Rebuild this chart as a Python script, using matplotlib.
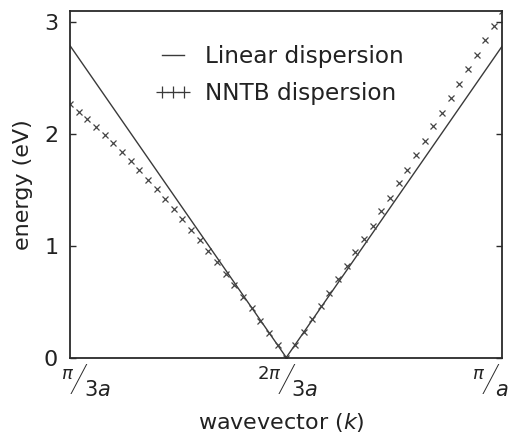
import matplotlib
matplotlib.use("Agg")
import matplotlib.pyplot as plt
from matplotlib.lines import Line2D
import matplotlib.transforms as mtransforms

plt.rcParams['font.family'] = ['DejaVu Sans']
plt.rcParams['mathtext.fontset'] = 'dejavusans'

# wavevector in units of pi/a
k_nntb = [0.3333, 0.3467, 0.3600, 0.3733, 0.3867, 0.4000, 0.4133, 0.4267, 0.4400,
          0.4533, 0.4667, 0.4800, 0.4933, 0.5067, 0.5200, 0.5333, 0.5467, 0.5600,
          0.5733, 0.5867, 0.6000, 0.6133, 0.6267, 0.6400, 0.6533, 0.6667, 0.6800,
          0.6933, 0.7067, 0.7200, 0.7333, 0.7467, 0.7600, 0.7733, 0.7867, 0.8000,
          0.8133, 0.8267, 0.8400, 0.8533, 0.8667, 0.8800, 0.8933, 0.9067, 0.9200,
          0.9333, 0.9467, 0.9600, 0.9733, 0.9867, 1.0000]
e_nntb = [2.27, 2.20, 2.13, 2.06, 1.99, 1.92, 1.84, 1.76, 1.68, 1.59, 1.51, 1.42,
          1.33, 1.24, 1.14, 1.05, 0.95, 0.85, 0.75, 0.65, 0.54, 0.44, 0.33, 0.22,
          0.11, 0.00, 0.11, 0.23, 0.34, 0.46, 0.58, 0.70, 0.82, 0.94, 1.06, 1.18,
          1.31, 1.43, 1.56, 1.68, 1.81, 1.94, 2.07, 2.19, 2.32, 2.45, 2.58, 2.71,
          2.84, 2.97, 3.10]

k_linear = [1/3, 2/3, 1.0]
e_linear = [2.79, 0.0, 2.79]

xtick_pos = [1/3, 2/3, 1.0]
xtick_num = [r'$\pi$', r'$2\pi$', r'$\pi$']
xtick_den = [r'$3a$', r'$3a$', r'$a$']
ytick_pos = [0, 1, 2, 3]
ytick_lab = ['0', '1', '2', '3']

label_names = ['Linear dispersion', 'NNTB dispersion']

dark = '#2a2a2a'
fig = plt.figure(figsize=(5.09, 4.34), dpi=100)
ax = fig.add_axes([70/509, 1-357.5/434, 432.5/509, 346.5/434])

ax.plot(k_linear, e_linear, '-', color='#3a3a3a', lw=1.0)
ax.plot(k_nntb, e_nntb, linestyle='none', marker='x', ms=5, mew=0.9, color='#444444')

ax.set_xlim(1/3, 1.0)
ax.set_ylim(0, 3.1)

for s in ax.spines.values():
    s.set_linewidth(1.3)
    s.set_color(dark)

ax.set_yticks(ytick_pos)
ax.set_yticklabels(ytick_lab)
ax.tick_params(axis='y', direction='in', length=4.5, width=1.0, color=dark,
               labelsize=16, pad=8.5, right=True, labelcolor='#222222')
ax.set_xticks(xtick_pos)
ax.set_xticklabels([])
ax.tick_params(axis='x', length=0)

# fraction-style tick labels
trans = ax.get_xaxis_transform()
slash_dx = [9, 0, -12]
for x, num, den, sdx in zip(xtick_pos, xtick_num, xtick_den, slash_dx):
    t = mtransforms.offset_copy(trans, fig=fig, x=sdx, y=-24, units='dots')
    ax.text(x, 0, '/', transform=t, ha='center', va='center', fontsize=27,
            family=['Roboto', 'DejaVu Sans'], fontweight='light', style='italic',
            color='#2a2a2a', clip_on=False)
    t = mtransforms.offset_copy(trans, fig=fig, x=sdx - 5, y=-21.5, units='dots')
    ax.text(x, 0, num, transform=t, ha='right', va='baseline', fontsize=13,
            color='#222222', clip_on=False)
    t = mtransforms.offset_copy(trans, fig=fig, x=sdx + 5, y=-38, units='dots')
    ax.text(x, 0, den, transform=t, ha='left', va='baseline', fontsize=15,
            color='#222222', clip_on=False)

ax.set_xlabel(r'wavevector ($k$)', fontsize=16, color='#222222')
ax.xaxis.set_label_coords(0.489, -0.154)
ax.set_ylabel('energy (eV)', fontsize=16, color='#222222')
ax.yaxis.set_label_coords(-0.0855, 0.5)

handles = [Line2D([], [], color='#3a3a3a', lw=1.0),
           Line2D([], [], color='#3a3a3a', lw=0.8, marker='+', ms=8, mew=0.9)]
leg = ax.legend(handles, label_names, loc='upper left', bbox_to_anchor=(0.1965, 0.902),
                frameon=False, fontsize=16.7, borderpad=0, borderaxespad=0,
                handlelength=1.55, handletextpad=0.6, labelspacing=0.6, numpoints=3)
for t in leg.get_texts():
    t.set_color('#222222')

fig.savefig('out.png', dpi=100)
